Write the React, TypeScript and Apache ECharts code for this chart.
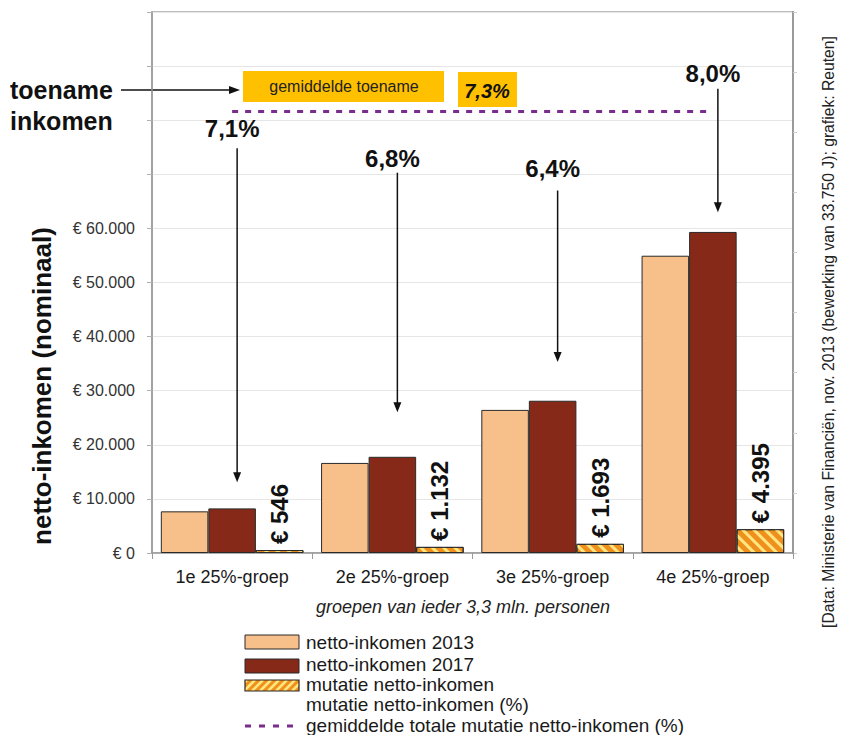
import React, { useEffect, useRef } from "react";
import * as echarts from "echarts";

const categories = ["1e 25%-groep", "2e 25%-groep", "3e 25%-groep", "4e 25%-groep"];
const income2013 = [7700, 16650, 26450, 54950];
const income2017 = [8246, 17782, 28143, 59345];
const mutation = [546, 1132, 1693, 4395];
const pctLabels = ["7,1%", "6,8%", "6,4%", "8,0%"];
const pctLabelY = [78500, 72900, 71100, 88600];
const arrowFrom = [74800, 70300, 67000, 85800];
const arrowTo = [13100, 26000, 35300, 63000];
const avgPctLabel = "7,3%";
const avgLineY = 81600;
const yMax = 100000;
const yInterval = 10000;
const yLabelMax = 60000;

const FONT = "'Liberation Sans', Arial, sans-serif";
const fmt = (v: number) => String(v).replace(/\B(?=(\d{3})+(?!\d))/g, ".");

function hatchLines(x0: number, y0: number, w: number, h: number, step: number) {
  const out: any[] = [];
  for (let k = x0 + y0 + 2; k < x0 + w + y0 + h; k += step) {
    const xa = Math.max(x0, k - (y0 + h));
    const xb = Math.min(x0 + w, k - y0);
    if (xb <= xa) continue;
    out.push({
      type: "line",
      shape: { x1: xa, y1: k - xa, x2: xb, y2: k - xb },
      style: { stroke: "#FFE680", lineWidth: 2.5 },
    });
  }
  return out;
}

export default function App() {
  const ref = useRef<HTMLDivElement>(null);
  useEffect(() => {
    const chart = echarts.init(ref.current!, null, { renderer: "svg" });
    const legendX = 245;
    const legendW = 54;
    const legendTextX = 306;
    const centered = { textAlign: "center", align: "center", textVerticalAlign: "middle", verticalAlign: "middle" };
    const option: any = {
      animation: false,
      backgroundColor: "#ffffff",
      textStyle: { fontFamily: FONT },
      grid: {
        left: 152,
        right: 56,
        top: 12,
        bottom: 182,
        show: true,
        borderColor: "#a8a8a8",
        borderWidth: 1.5,
      },
      xAxis: {
        type: "category",
        data: categories,
        axisLine: { lineStyle: { color: "#9a9a9a", width: 1.5 } },
        axisTick: { show: true, length: 6, lineStyle: { color: "#9a9a9a" } },
        axisLabel: { fontSize: 18, color: "#1a1a1a", margin: 15, fontFamily: FONT },
      },
      yAxis: [
        {
          type: "value",
          min: 0,
          max: yMax,
          interval: yInterval,
          axisLine: { show: true, lineStyle: { color: "#9a9a9a", width: 1.5 } },
          axisTick: { show: true, length: 5, lineStyle: { color: "#b0b0b0" } },
          axisLabel: {
            fontSize: 16,
            color: "#333",
            margin: 17,
            fontFamily: FONT,
            formatter: (v: number) => (v <= yLabelMax ? "€ " + fmt(v) : ""),
          },
          splitLine: { lineStyle: { color: "#e6e6e6", width: 1 } },
        },
        {
          type: "value",
          position: "right",
          min: 0,
          max: 9,
          interval: 1,
          axisLine: { show: true, lineStyle: { color: "#9a9a9a", width: 2 } },
          axisTick: { show: true, length: 4, lineStyle: { color: "#cfcfcf" } },
          axisLabel: { show: false },
          splitLine: { show: false },
        },
      ],
      series: [
        {
          name: "netto-inkomen 2013",
          type: "bar",
          data: income2013,
          barGap: "0%",
          barCategoryGap: "11%",
          itemStyle: { color: "#F7BF8A", borderColor: "#2a2a2a", borderWidth: 1 },
        },
        {
          name: "netto-inkomen 2017",
          type: "bar",
          data: income2017,
          itemStyle: { color: "#872919", borderColor: "#2a2a2a", borderWidth: 1 },
        },
        {
          name: "mutatie netto-inkomen",
          type: "bar",
          data: mutation,
          itemStyle: {
            color: "#F0901C",
            borderColor: "#2a2a2a",
            borderWidth: 1,
            decal: {
              symbol: "rect",
              symbolSize: 1,
              color: "#FFE680",
              dashArrayX: [1, 0],
              dashArrayY: [3, 5],
              rotation: Math.PI / 4,
            },
          },
          label: {
            show: true,
            position: "top",
            rotate: 90,
            align: "left",
            verticalAlign: "middle",
            distance: 6,
            fontSize: 24,
            fontWeight: "bold",
            color: "#111",
            fontFamily: FONT,
            formatter: (p: any) => "€ " + fmt(p.value),
          },
        },
        {
          name: "gemiddelde totale mutatie netto-inkomen (%)",
          type: "line",
          data: [],
          markLine: {
            silent: true,
            symbol: ["none", "none"],
            label: { show: false },
            lineStyle: { color: "#7B2D8E", type: [6, 7], width: 3 },
            data: [[{ coord: [categories[0], avgLineY] }, { coord: [categories[3], avgLineY] }]],
          },
        },
        {
          name: "mutatie netto-inkomen (%)",
          type: "custom",
          data: categories.map((_, i) => [i, pctLabelY[i], arrowFrom[i], arrowTo[i]]),
          encode: { x: 0, y: 1 },
          renderItem: (params: any, api: any) => {
            const i = params.dataIndex;
            const p = api.coord([api.value(0), api.value(1)]);
            const a = api.coord([api.value(0), api.value(2)]);
            const b = api.coord([api.value(0), api.value(3)]);
            const x = p[0] + 5;
            return {
              type: "group",
              children: [
                {
                  type: "text",
                  x: p[0],
                  y: p[1],
                  style: {
                    text: pctLabels[i],
                    font: "bold 24px " + FONT,
                    fill: "#111",
                    align: "center",
                    verticalAlign: "middle",
                  },
                },
                {
                  type: "line",
                  shape: { x1: x, y1: a[1], x2: x, y2: b[1] - 8 },
                  style: { stroke: "#111", lineWidth: 1.5 },
                },
                {
                  type: "polygon",
                  shape: { points: [[x, b[1]], [x - 4, b[1] - 10], [x + 4, b[1] - 10]] },
                  style: { fill: "#111" },
                },
              ],
            };
          },
        },
      ],
      graphic: {
        elements: [
          {
            type: "text",
            x: 10,
            y: 90,
            style: { text: "toename", font: "bold 25px " + FONT, fill: "#111", textVerticalAlign: "middle", verticalAlign: "middle" },
          },
          {
            type: "text",
            x: 10,
            y: 121,
            style: { text: "inkomen", font: "bold 25px " + FONT, fill: "#111", textVerticalAlign: "middle", verticalAlign: "middle" },
          },
          { type: "line", shape: { x1: 121, y1: 90, x2: 230, y2: 90 }, style: { stroke: "#111", lineWidth: 1.5 } },
          { type: "polygon", shape: { points: [[240, 90], [229, 86], [229, 94]] }, style: { fill: "#111" } },
          { type: "rect", shape: { x: 243, y: 71, width: 201, height: 31 }, style: { fill: "#FFC000" } },
          {
            type: "text",
            x: 344,
            y: 86,
            style: { text: "gemiddelde toename", font: "16px " + FONT, fill: "#222", ...centered },
          },
          { type: "rect", shape: { x: 458, y: 72, width: 59, height: 35 }, style: { fill: "#FFC000" } },
          {
            type: "text",
            x: 487,
            y: 91,
            style: { text: avgPctLabel, font: "italic bold 20px " + FONT, fill: "#111", ...centered },
          },
          {
            type: "text",
            x: 42,
            y: 386,
            rotation: Math.PI / 2,
            style: { text: "netto-inkomen (nominaal)", font: "bold 26px " + FONT, fill: "#111", ...centered },
          },
          {
            type: "text",
            x: 463,
            y: 607,
            style: { text: "groepen van ieder 3,3 mln. personen", font: "italic 18px " + FONT, fill: "#222", ...centered },
          },
          {
            type: "text",
            x: 828,
            y: 332,
            rotation: Math.PI / 2,
            style: {
              text: "[Data: Ministerie van Financiën, nov. 2013 (bewerking van 33.750 J); grafiek: Reuten]",
              font: "15.7px " + FONT,
              fill: "#222",
              ...centered,
            },
          },
          // legend
          { type: "rect", shape: { x: legendX, y: 635, width: legendW, height: 14 }, style: { fill: "#F7BF8A", stroke: "#2a2a2a", lineWidth: 1 } },
          { type: "rect", shape: { x: legendX, y: 659, width: legendW, height: 14 }, style: { fill: "#872919", stroke: "#2a2a2a", lineWidth: 1 } },
          { type: "rect", shape: { x: legendX, y: 680, width: legendW, height: 11 }, style: { fill: "#F0901C" } },
          ...hatchLines(legendX, 680, legendW, 11, 8),
          { type: "rect", shape: { x: legendX, y: 680, width: legendW, height: 11 }, style: { fill: "none", stroke: "#2a2a2a", lineWidth: 1.2 } },
          {
            type: "line",
            shape: { x1: legendX, y1: 726, x2: legendX + legendW, y2: 726 },
            style: { stroke: "#7B2D8E", lineWidth: 3, lineDash: [6, 8] },
          },
          ...[
            ["netto-inkomen 2013", 642],
            ["netto-inkomen 2017", 664],
            ["mutatie netto-inkomen", 684],
            ["mutatie netto-inkomen (%)", 704],
            ["gemiddelde totale mutatie netto-inkomen (%)", 725],
          ].map(([t, y]) => ({
            type: "text",
            x: legendTextX,
            y: y as number,
            style: {
              text: t as string,
              font: "19px " + FONT,
              fill: "#1a1a1a",
              textVerticalAlign: "middle",
              verticalAlign: "middle",
            },
          })),
        ],
      },
    };
    chart.setOption(option);
    return () => chart.dispose();
  }, []);
  return <div ref={ref} style={{ position: "absolute", left: 0, top: 0, width: 849, height: 735 }} />;
}
